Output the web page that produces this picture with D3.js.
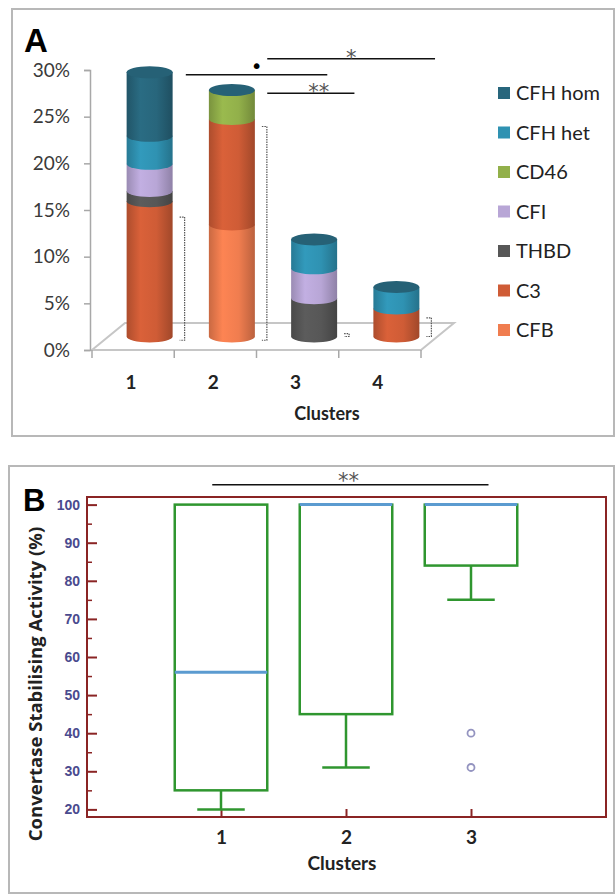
<!DOCTYPE html>
<html>
<head>
<meta charset="utf-8">
<script src="https://cdnjs.cloudflare.com/ajax/libs/d3/7.8.5/d3.min.js"></script>
<style>
body { margin: 0; background: #fff; }
svg { display: block; }
</style>
</head>
<body>
<script>
// ---- panel A data (percent of patients per cluster) ----
var clusters = ["1", "2", "3", "4"];
var stackKeys = ["CFB", "C3", "THBD", "CFI", "CD46", "CFH het", "CFH hom"];
var cfb    = [0,    12.0, 0,   0];
var c3     = [14.5, 11.3, 0,   3.0];
var thbd   = [1.1,  0,    4.1, 0];
var cfi    = [2.9,  0,    3.2, 0];
var cd46   = [0,    3.1,  0,   0];
var cfhHet = [3.0,  0,    3.1, 2.3];
var cfhHom = [6.8,  0,    0,   0];
var bracketTop    = [12.8, 22.5, 0.3, 2.0];
var bracketBottom = [-0.4, -0.4, 0,   0];
var yTicksA = [0, 5, 10, 15, 20, 25, 30];
// significance bars in panel A (cluster units / percent)
var sigFromA  = [2.43, 1.44, 2.43];
var sigToA    = [4.47, 3.16, 3.49];
var sigLevelA = [31.2, 29.5, 27.5];
var sigLabelA = ["*", "\u2022", "**"];

// ---- panel B data (convertase stabilising activity, %) ----
var boxClusters = [1, 2, 3];
var whiskerLow  = [20, 31, 75];
var boxQ1       = [25, 45, 84];
var boxMedian   = [56, 100, 100];
var boxQ3       = [100, 100, 100];
var outlierCluster = [3, 3];
var outlierValue   = [40, 31];
var yTicksB = [20, 30, 40, 50, 60, 70, 80, 90, 100];
var yMinorB = [25, 35, 45, 55, 65, 75, 85, 95];

var colors = {
    "CFH hom": "#28667c",
    "CFH het": "#2f92b2",
    "CD46": "#92b04a",
    "CFI": "#b8a6d6",
    "THBD": "#575757",
    "C3": "#cf5c36",
    "CFB": "#f07d4f"
};

var svg = d3.select("body").append("svg")
    .attr("width", 616)
    .attr("height", 895);

var defs = svg.append("defs");
stackKeys.forEach(function(k, i){
    var c = d3.color(colors[k]);
    var g = defs.append("linearGradient")
        .attr("id", "grad" + i)
        .attr("x1", 0).attr("x2", 1).attr("y1", 0).attr("y2", 0);
    g.append("stop").attr("offset", "0%").attr("stop-color", c.darker(0.5));
    g.append("stop").attr("offset", "30%").attr("stop-color", c.brighter(0.15));
    g.append("stop").attr("offset", "65%").attr("stop-color", c);
    g.append("stop").attr("offset", "100%").attr("stop-color", c.darker(0.7));
});

// panel frames
svg.append("rect").attr("x", 12).attr("y", 9).attr("width", 602).attr("height", 427)
    .attr("fill", "none").attr("stroke", "#b8b8b8").attr("stroke-width", 2);
svg.append("rect").attr("x", 9).attr("y", 466).attr("width", 605).attr("height", 427)
    .attr("fill", "none").attr("stroke", "#b8b8b8").attr("stroke-width", 2);

// ================= Panel A =================
var gA = svg.append("g");
var yA = d3.scaleLinear().domain([0, 30]).range([350, 70]);
var xA = d3.scaleBand().domain(clusters).range([92, 421]);
var depthX = 33, depthY = -27;
var barR = 23, barRy = 6;

var barX = function(c){ return xA(c) + xA.bandwidth() / 2 + depthX / 2; };
var barY = function(v){ return yA(v) + depthY / 2; };
var clusterX = function(u){ return xA("1") + xA.bandwidth() / 2 + depthX / 2 + (u - 1) * xA.step(); };

// floor
var x0 = xA.range()[0], x1 = xA.range()[1], yf = yA(0);
gA.append("path")
    .attr("d", "M" + x0 + "," + yf + " L" + x1 + "," + yf + " L" + (x1 + depthX) + "," + (yf + depthY) +
        " L" + (x0 + depthX) + "," + (yf + depthY) + " Z")
    .attr("fill", "none").attr("stroke", "#c6c6c6").attr("stroke-width", 2);

// y axis
var yAxisA = gA.append("g").attr("transform", "translate(90,0)")
    .call(d3.axisLeft(yA).tickValues(yTicksA).tickSize(6).tickPadding(14)
        .tickFormat(function(d){ return d + "%"; }));
yAxisA.select(".domain").attr("stroke", "#a8a8a8").attr("stroke-width", 1.5);
yAxisA.selectAll(".tick line").attr("stroke", "#a8a8a8").attr("stroke-width", 1.5);
yAxisA.selectAll("text").attr("font-family", "Lato, sans-serif").attr("font-size", 19)
    .attr("fill", "#3a3a3a");

// x ticks at band edges on front edge
gA.selectAll(".xtickA").data(d3.range(clusters.length + 1)).enter()
    .append("line")
    .attr("x1", function(d){ return x0 + d * xA.step(); })
    .attr("x2", function(d){ return x0 + d * xA.step(); })
    .attr("y1", yf).attr("y2", yf + 8)
    .attr("stroke", "#a8a8a8").attr("stroke-width", 1.5);
gA.selectAll(".xlabA").data(clusters).enter()
    .append("text")
    .attr("x", function(d){ return xA(d) + xA.bandwidth() / 2 - 2; })
    .attr("y", 389)
    .attr("text-anchor", "middle")
    .attr("font-family", "Lato, sans-serif").attr("font-weight", "bold").attr("font-size", 19)
    .attr("fill", "#222")
    .text(function(d){ return d; });
gA.append("text").attr("x", 327).attr("y", 420).attr("text-anchor", "middle")
    .attr("font-family", "Lato, sans-serif").attr("font-weight", "bold").attr("font-size", 18)
    .attr("fill", "#222").text("Clusters");

// stacked cylinders
var rows = clusters.map(function(c, i){
    return { cluster: c, "CFB": cfb[i], "C3": c3[i], "THBD": thbd[i], "CFI": cfi[i],
        "CD46": cd46[i], "CFH het": cfhHet[i], "CFH hom": cfhHom[i] };
});
var stacked = d3.stack().keys(stackKeys)(rows);

stacked.forEach(function(layer, li){
    gA.selectAll(".seg" + li)
        .data(layer.filter(function(d){ return d[1] > d[0]; }))
        .enter()
        .append("path")
        .attr("fill", "url(#grad" + li + ")")
        .attr("d", function(d){
            var x = barX(d.data.cluster), b = barY(d[0]), t = barY(d[1]);
            return "M" + (x - barR) + "," + t + " L" + (x - barR) + "," + b +
                " A" + barR + "," + barRy + " 0 0 0 " + (x + barR) + "," + b +
                " L" + (x + barR) + "," + t + " Z";
        });
});
// top disks (Excel draws the zero-height top series as a flat disk)
var topLayer = stacked[stacked.length - 1];
gA.selectAll(".topdisk").data(topLayer).enter()
    .append("ellipse")
    .attr("cx", function(d){ return barX(d.data.cluster); })
    .attr("cy", function(d){ return barY(d[1]); })
    .attr("rx", barR).attr("ry", barRy)
    .attr("fill", d3.color(colors["CFH hom"]).darker(0.15));

// dotted brackets
var bracketX = function(c){ return barX(c) + barR + 12; };
clusters.forEach(function(c, i){
    var bx = bracketX(c), bt = barY(bracketTop[i]), bb = barY(bracketBottom[i]);
    gA.append("path")
        .attr("d", "M" + (bx - 5) + "," + bt + " L" + bx + "," + bt + " L" + bx + "," + bb + " L" + (bx - 5) + "," + bb)
        .attr("fill", "none").attr("stroke", "#555").attr("stroke-width", 1.2)
        .attr("stroke-dasharray", "1.5,1");
});

// significance lines
sigLabelA.forEach(function(lab, i){
    var xa = clusterX(sigFromA[i]), xb = clusterX(sigToA[i]), yy = yA(sigLevelA[i]);
    gA.append("line").attr("x1", xa).attr("x2", xb).attr("y1", yy).attr("y2", yy)
        .attr("stroke", "#111").attr("stroke-width", 1.5);
    gA.append("text").attr("x", (xa + xb) / 2 + (lab === "**" ? 8 : 0))
        .attr("y", yy + (lab === "\u2022" ? -2 : 6))
        .attr("text-anchor", "middle")
        .attr("font-family", "DejaVu Sans, sans-serif")
        .attr("font-size", lab === "\u2022" ? 20 : 21)
        .attr("fill", lab === "\u2022" ? "#000" : "#555")
        .text(lab);
});

// legend
var legendKeys = stackKeys.slice().reverse();
var lg = gA.selectAll(".leg").data(legendKeys).enter().append("g")
    .attr("transform", function(d, i){ return "translate(498," + (93 + i * 39.5) + ")"; });
lg.append("rect").attr("x", 0).attr("y", -6).attr("width", 12).attr("height", 12)
    .attr("fill", function(d){ return colors[d]; });
lg.append("text").attr("x", 18).attr("y", 0).attr("dy", "0.35em")
    .attr("font-family", "Lato, sans-serif").attr("font-size", 20).attr("fill", "#222")
    .text(function(d){ return d; });

gA.append("text").attr("x", 24).attr("y", 52)
    .attr("font-family", "Liberation Sans, Arial, sans-serif").attr("font-weight", "bold")
    .attr("font-size", 33).attr("fill", "#000").text("A");

// ================= Panel B =================
var gB = svg.append("g");
var yB = d3.scaleLinear().domain([18, 102]).range([817, 497]);
var xB = d3.scaleLinear().domain([1, 3]).range([221, 471]);
var frameL = 87, frameR = 606;
var red = "#8a2424";
var boxHalf = 0.37, capHalf = 0.19;

gB.append("rect").attr("x", frameL).attr("y", yB(102)).attr("width", frameR - frameL)
    .attr("height", yB(18) - yB(102))
    .attr("fill", "none").attr("stroke", red).attr("stroke-width", 2);

var yAxisB = gB.append("g").attr("transform", "translate(" + frameL + ",0)")
    .call(d3.axisLeft(yB).tickValues(yTicksB).tickSize(-10).tickPadding(7));
yAxisB.select(".domain").remove();
yAxisB.selectAll(".tick line").attr("stroke", red).attr("stroke-width", 2);
yAxisB.selectAll("text").attr("font-family", "Liberation Sans, Arial, sans-serif")
    .attr("font-weight", "bold").attr("font-size", 14).attr("fill", "#4a4a8e");
var yMinor = gB.append("g").attr("transform", "translate(" + frameL + ",0)")
    .call(d3.axisLeft(yB).tickValues(yMinorB).tickSize(-5).tickFormat(""));
yMinor.select(".domain").remove();
yMinor.selectAll(".tick line").attr("stroke", red).attr("stroke-width", 1.5);

var xAxisB = gB.append("g").attr("transform", "translate(0," + yB(18) + ")")
    .call(d3.axisBottom(xB).tickValues(boxClusters).tickSize(-8).tickPadding(14)
        .tickFormat(d3.format("d")));
xAxisB.select(".domain").remove();
xAxisB.selectAll(".tick line").attr("stroke", red).attr("stroke-width", 2);
xAxisB.selectAll("text").attr("font-family", "Lato, sans-serif").attr("font-weight", "bold")
    .attr("font-size", 19).attr("fill", "#222");

gB.append("text").attr("x", 342).attr("y", 870).attr("text-anchor", "middle")
    .attr("font-family", "Lato, sans-serif").attr("font-weight", "bold").attr("font-size", 19)
    .attr("fill", "#222").text("Clusters");

gB.append("text")
    .attr("transform", "translate(42,684) rotate(-90)")
    .attr("text-anchor", "middle")
    .attr("font-family", "Open Sans, sans-serif").attr("font-weight", "bold").attr("font-size", 18.5)
    .attr("fill", "#222").text("Convertase Stabilising Activity (%)");

gB.append("text").attr("x", 23).attr("y", 511)
    .attr("font-family", "Liberation Sans, Arial, sans-serif").attr("font-weight", "bold")
    .attr("font-size", 31).attr("fill", "#000").text("B");

// boxes
var green = "#2f962f";
boxClusters.forEach(function(c, i){
    var g = gB.append("g");
    g.append("line").attr("x1", xB(c)).attr("x2", xB(c))
        .attr("y1", yB(boxQ1[i])).attr("y2", yB(whiskerLow[i]))
        .attr("stroke", green).attr("stroke-width", 2.5);
    g.append("line").attr("x1", xB(c - capHalf)).attr("x2", xB(c + capHalf))
        .attr("y1", yB(whiskerLow[i])).attr("y2", yB(whiskerLow[i]))
        .attr("stroke", green).attr("stroke-width", 2.5);
    g.append("rect").attr("x", xB(c - boxHalf)).attr("y", yB(boxQ3[i]))
        .attr("width", xB(c + boxHalf) - xB(c - boxHalf))
        .attr("height", yB(boxQ1[i]) - yB(boxQ3[i]))
        .attr("fill", "none").attr("stroke", green).attr("stroke-width", 2.5);
    g.append("line").attr("x1", xB(c - boxHalf)).attr("x2", xB(c + boxHalf))
        .attr("y1", yB(boxMedian[i])).attr("y2", yB(boxMedian[i]))
        .attr("stroke", "#5b9bd0").attr("stroke-width", 3);
});

gB.selectAll(".outlier").data(outlierValue).enter()
    .append("circle")
    .attr("cx", function(d, i){ return xB(outlierCluster[i]); })
    .attr("cy", function(d){ return yB(d); })
    .attr("r", 3.5)
    .attr("fill", "none").attr("stroke", "#9494c0").attr("stroke-width", 1.8);

// significance line panel B
var sbY = yB(105.2);
gB.append("line").attr("x1", xB(0.93)).attr("x2", xB(3.14)).attr("y1", sbY).attr("y2", sbY)
    .attr("stroke", "#111").attr("stroke-width", 1.5);
gB.append("text").attr("x", xB(2.02)).attr("y", sbY + 3).attr("text-anchor", "middle")
    .attr("font-family", "DejaVu Sans, sans-serif").attr("font-size", 21).attr("fill", "#555")
    .text("**");
</script>
</body>
</html>
